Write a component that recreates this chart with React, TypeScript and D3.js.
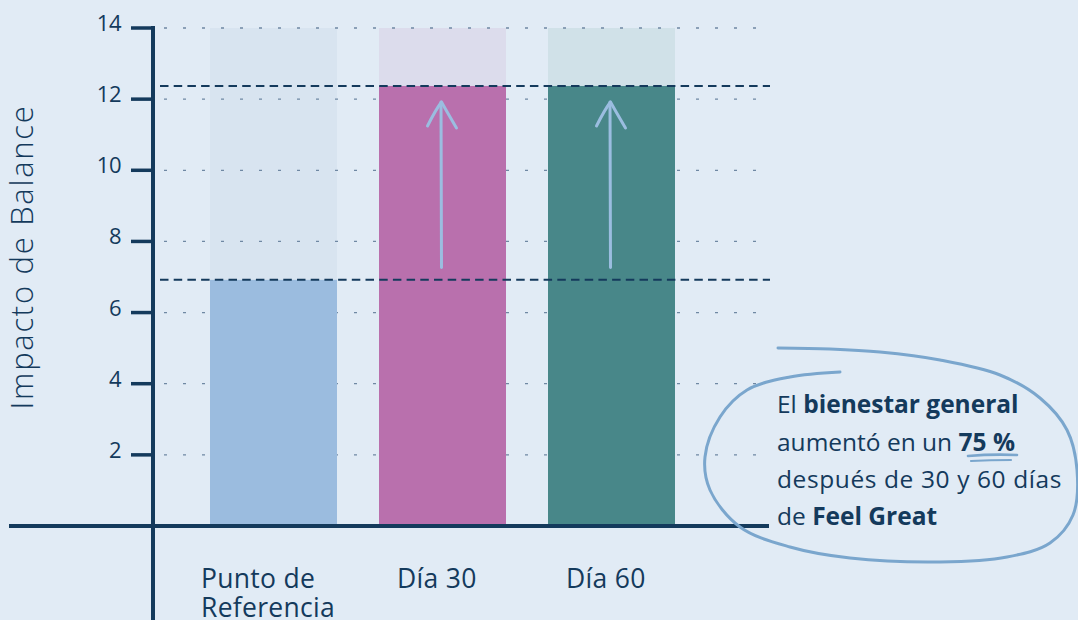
import React from "react";
import * as d3 from "d3";

// Chart data
const categories = ["Punto de Referencia", "Día 30", "Día 60"];
const categoryLines = [["Punto de", "Referencia"], ["Día 30"], ["Día 60"]];
const values = [6.92, 12.37, 12.37];
const yTicks = [2, 4, 6, 8, 10, 12, 14];
const yMax = 14;
const yTitle = "Impacto de Balance";

const barColors = ["#9bbcdf", "#b970ad", "#488789"];
const columnColors = ["#d8e4f0", "#dcdcec", "#d0e1e8"];

const W = 1078;
const H = 620;
const NAVY = "#143a5c";
const FONT = "'Open Sans', 'Noto Sans', sans-serif";

// Hand-drawn loop around the note
const loopPoints: [number, number][] = [
  [778, 348], [830, 349], [880, 352], [940, 360], [1000, 375], [1040, 398],
  [1067, 430], [1077, 470], [1073, 515], [1050, 543], [1007, 557], [940, 562],
  [850, 558], [790, 547], [740, 527], [710, 490], [705, 457], [720, 417],
  [747, 390], [790, 377], [840, 372],
];

export default function App() {
  const y = d3.scaleLinear().domain([0, yMax]).range([526, 28]);
  const x = d3
    .scaleBand<string>()
    .domain(categories)
    .range([189, 696])
    .paddingInner(42 / 169)
    .paddingOuter(21 / 169);

  const axisX = 153;
  const gridX0 = 160;
  const gridX1 = 770;
  const loop = d3.line().curve(d3.curveCatmullRom.alpha(0.5))(loopPoints) || "";

  // Reference levels: baseline and the later readings
  const refLevels = [values[0], values[1]];
  const labelX = (c: string, i: number) => (x(c) as number) + (i === 0 ? -9 : 18);

  return (
    <svg
      width={W}
      height={H}
      style={{ position: "absolute", left: 0, top: 0, display: "block" }}
      fontFamily={FONT}
    >
      <rect width={W} height={H} fill="#e1ebf5" />

      {/* column backgrounds up to the scale maximum */}
      {categories.map((c, i) => (
        <rect
          key={"col" + c}
          x={x(c)}
          y={y(yMax)}
          width={x.bandwidth()}
          height={y(0) - y(yMax)}
          fill={columnColors[i]}
        />
      ))}

      {/* dotted gridlines */}
      {yTicks.map((t) => (
        <line
          key={"g" + t}
          x1={gridX0}
          x2={gridX1}
          y1={y(t)}
          y2={y(t)}
          stroke="#6f88a3"
          strokeWidth={1.3}
          strokeDasharray="3 16"
          strokeDashoffset={-4}
        />
      ))}

      {/* bars */}
      {categories.map((c, i) => (
        <rect
          key={"bar" + c}
          x={x(c)}
          y={y(values[i])}
          width={x.bandwidth()}
          height={y(0) - y(values[i])}
          fill={barColors[i]}
        />
      ))}

      {/* upward arrows on the later bars */}
      {categories.slice(1).map((c, j) => {
        const cx = (x(c) as number) + x.bandwidth() / 2 - 1;
        const y0 = y(values[0] + 0.35);
        const y1 = y(values[j + 1] - 0.45);
        return (
          <g key={"ar" + c} stroke="#9bbde0" strokeWidth={3} fill="none" strokeLinecap="round" strokeLinejoin="round">
            <path d={`M${cx},${y0} L${cx - 0.5},${y1}`} />
            <path d={`M${cx - 14},${y1 + 24} Q${cx - 6},${y1 + 8} ${cx},${y1} Q${cx + 5},${y1 + 9} ${cx + 15},${y1 + 26}`} />
          </g>
        );
      })}

      {/* dashed reference levels */}
      {refLevels.map((v, i) => (
        <line
          key={"ref" + i}
          x1={gridX0}
          x2={gridX1}
          y1={y(v)}
          y2={y(v)}
          stroke={NAVY}
          strokeWidth={2}
          strokeDasharray="8.5 5.2"
        />
      ))}

      {/* axes */}
      <line x1={9} x2={769} y1={y(0)} y2={y(0)} stroke={NAVY} strokeWidth={4} />
      <line x1={axisX} x2={axisX} y1={y(yMax) - 2} y2={H} stroke={NAVY} strokeWidth={4} />
      {yTicks.map((t) => (
        <g key={"t" + t}>
          <line x1={131} x2={axisX} y1={y(t)} y2={y(t)} stroke={NAVY} strokeWidth={3.5} />
          <text
            x={121}
            y={y(t) - 6}
            textAnchor="end"
            dominantBaseline="central"
            fontSize={22}
            fontWeight={500}
            letterSpacing={-0.5}
            fill={NAVY}
          >
            {t}
          </text>
        </g>
      ))}

      {/* y title */}
      <text
        transform={`translate(33, ${257}) rotate(-90)`}
        textAnchor="middle"
        fontSize={31}
        fontWeight={300}
        letterSpacing={1.7}
        fill={NAVY}
      >
        {yTitle}
      </text>

      {/* category labels */}
      {categories.map((c, i) => (
        <g key={"lab" + c} fontSize={26.5} letterSpacing={0.3} fill={NAVY}>
          {categoryLines[i].map((ln, k) => (
            <text key={k} x={labelX(c, i)} y={588 + k * 29}>
              {ln}
            </text>
          ))}
        </g>
      ))}

      {/* note */}
      <path d={loop} fill="none" stroke="#7aa6cd" strokeWidth={3} strokeLinecap="round" />
      <g fontSize={24.5} fill={NAVY}>
        <text x={777} y={413}>
          El <tspan fontWeight={700}>bienestar general</tspan>
        </text>
        <text x={777} y={451}>
          aumentó en un <tspan fontWeight={700}>75 %</tspan>
        </text>
        <text x={777} y={488} letterSpacing={0.6}>después de 30 y 60 días</text>
        <text x={777} y={525}>
          de <tspan fontWeight={700}>Feel Great</tspan>
        </text>
      </g>
      <g stroke="#7aa6cd" fill="none" strokeLinecap="round">
        <path d="M968,456 Q992,454 1017,455" strokeWidth={2.6} />
        <path d="M971,461 Q990,460 1011,460" strokeWidth={2.2} />
      </g>
    </svg>
  );
}
